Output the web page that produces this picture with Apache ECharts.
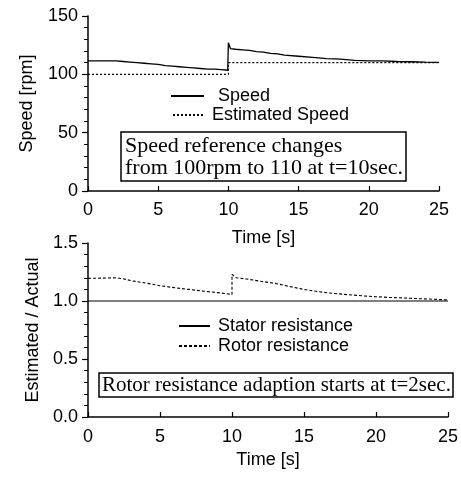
<!DOCTYPE html>
<html>
<head>
<meta charset="utf-8">
<script src="https://cdn.jsdelivr.net/npm/echarts@6/dist/echarts.min.js"></script>
<style>html,body{margin:0;padding:0;background:#fff;}#c{width:461px;height:478px;}</style>
</head>
<body>
<div id="c"></div>
<script>
// ---- data ----
const speedTime  = [0, 2, 2.5, 3, 3.5, 4, 4.5, 5, 5.5, 6, 6.5, 7, 7.5, 8, 8.5, 9, 9.5, 9.95, 10, 10, 10.15, 10.5, 11, 11.5, 12, 12.5, 13, 13.5, 14, 15, 16, 17, 18, 19, 20, 21, 22, 23, 24, 25];
const speedVals  = [111.5, 111.5, 111, 110.5, 110, 109.5, 109, 108.5, 107.5, 107, 106.5, 106, 105.5, 105, 104.5, 104.5, 104, 103.5, 103.5, 127, 122, 121.5, 121, 120.5, 119.5, 119, 118, 117.5, 116.5, 115.5, 114.5, 113.5, 113, 112, 111.5, 111.5, 111, 110.8, 110.5, 110.3];
const estTime    = [0, 10, 10, 25];
const estVals    = [100, 100, 110, 110];
const statorTime = [0, 25];
const statorVals = [1.0, 1.0];
const rotorTime  = [0, 2, 2.5, 3, 4, 5, 6, 7, 8, 9, 10, 10, 10.1, 10.3, 11, 12, 13, 14, 15, 16, 17, 18, 19, 20, 21, 22, 23, 24, 25];
const rotorVals  = [1.195, 1.2, 1.19, 1.175, 1.155, 1.132, 1.115, 1.1, 1.085, 1.072, 1.057, 1.23, 1.215, 1.2, 1.19, 1.17, 1.152, 1.125, 1.1, 1.08, 1.066, 1.055, 1.045, 1.037, 1.03, 1.026, 1.02, 1.015, 1.009];
const seriesNames = ['Speed', 'Estimated Speed', 'Stator resistance', 'Rotor resistance'];
const xName = 'Time [s]';
const yNames = ['Speed [rpm]', 'Estimated / Actual'];
const notes = ['Speed reference changes\nfrom 100rpm to 110 at t=10sec.', 'Rotor resistance adaption starts at t=2sec.'];

const zip = (a, b) => a.map((t, i) => [t, b[i]]);
const SANS = 'Liberation Sans';
const SERIF = 'Liberation Serif';

function xAxis(gi, gap, margin) {
  return {
    type: 'value', gridIndex: gi, min: 0, max: 25, interval: 5,
    name: xName, nameLocation: 'middle', nameGap: gap,
    nameTextStyle: { fontFamily: SANS, fontSize: 18, color: '#000' },
    axisLine: { lineStyle: { color: '#000', width: 1.5 } },
    axisTick: { inside: true, length: 5, lineStyle: { color: '#000', width: 1.2 } },
    axisLabel: { fontFamily: SANS, fontSize: 18, color: '#000', margin: margin },
    splitLine: { show: false }
  };
}
function yAxis(gi, max, interval, name, gap, fmt) {
  return {
    type: 'value', gridIndex: gi, min: 0, max: max, interval: interval,
    name: name, nameLocation: 'middle', nameGap: gap,
    nameTextStyle: { fontFamily: SANS, fontSize: 18, color: '#000' },
    axisLine: { show: true, lineStyle: { color: '#000', width: 1.5 } },
    axisTick: { show: true, length: 6, lineStyle: { color: '#000', width: 1.2 } },
    minorTick: { show: true, splitNumber: 5, length: 4, lineStyle: { color: '#000', width: 1 } },
    axisLabel: { fontFamily: SANS, fontSize: 18, color: '#000', margin: 10, formatter: fmt },
    splitLine: { show: false }, minorSplitLine: { show: false }
  };
}
function legend(name, left, top, w, pad) {
  return {
    data: [name], left: left, top: top, itemWidth: w, itemHeight: 14, padding: 0,
    itemStyle: { opacity: 0 },
    textStyle: { fontFamily: SANS, fontSize: 18, color: '#000', padding: [0, 0, 0, pad] },
    selectedMode: false
  };
}
function line(name, data, xi, type, width) {
  return {
    name: name, type: 'line', xAxisIndex: xi, yAxisIndex: xi, data: data,
    symbol: 'none', animation: false,
    lineStyle: { color: '#000', width: width, type: type },
    itemStyle: { color: '#000' }
  };
}

const chart = echarts.init(document.getElementById('c'), null, { renderer: 'canvas' });
chart.setOption({
  backgroundColor: '#fff',
  animation: false,
  grid: [
    { left: 88, top: 16, width: 351, height: 175 },
    { left: 88, top: 243, width: 360, height: 174 }
  ],
  xAxis: [xAxis(0, 38, 10), xAxis(1, 34, 11)],
  yAxis: [
    yAxis(0, 150, 50, yNames[0], 52, v => String(v)),
    yAxis(1, 1.5, 0.5, yNames[1], 45, v => v.toFixed(1))
  ],
  legend: [
    legend(seriesNames[0], 170, 87, 33, 9),
    legend(seriesNames[1], 172, 106, 31, 3),
    legend(seriesNames[2], 178, 317, 31, 3),
    legend(seriesNames[3], 178, 337, 31, 3)
  ],
  title: [
    { text: notes[0], left: 121, top: 132, padding: [3, 3, 2, 4], borderColor: '#000', borderWidth: 1.5,
      textStyle: { fontFamily: SERIF, fontSize: 22, fontWeight: 'normal', color: '#000', lineHeight: 22 } },
    { text: notes[1], left: 99, top: 373, padding: [2, 2, 1, 3], borderColor: '#000', borderWidth: 1.5,
      textStyle: { fontFamily: SERIF, fontSize: 21, fontWeight: 'normal', color: '#000', lineHeight: 21 } }
  ],
  series: [
    line(seriesNames[0], zip(speedTime, speedVals), 0, 'solid', 1.3),
    line(seriesNames[1], zip(estTime, estVals), 0, [2, 2], 1.1),
    line(seriesNames[2], zip(statorTime, statorVals), 1, 'solid', 1.2),
    line(seriesNames[3], zip(rotorTime, rotorVals), 1, [3, 2], 1.1)
  ]
});
</script>
</body>
</html>
